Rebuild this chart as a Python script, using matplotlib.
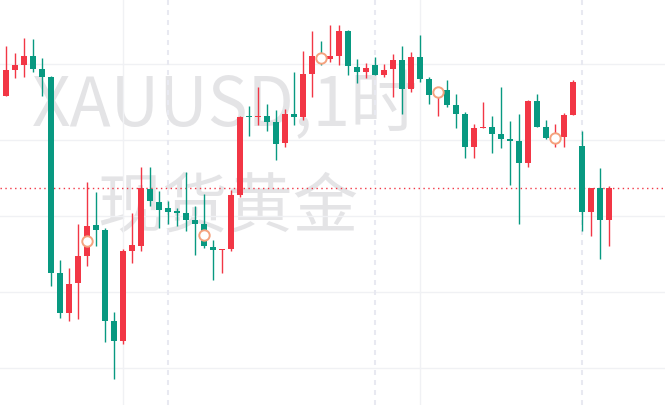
import matplotlib.pyplot as plt
import numpy as np

# OHLC-Daten (Stundenkerzen XAUUSD)
open_ = [2390.3, 2392.9, 2393.4, 2394.3, 2393.0, 2392.2, 2372.6, 2368.6, 2371.6, 2374.3,
         2377.4, 2376.9, 2367.8, 2365.8, 2374.8, 2375.3, 2381.0, 2379.7, 2379.1, 2378.8,
         2378.6, 2377.9, 2377.5, 2375.2, 2374.9, 2375.0, 2380.4, 2388.3, 2388.2, 2388.3,
         2387.7, 2385.6, 2388.5, 2388.2, 2392.5, 2394.3, 2394.0, 2394.3, 2396.8, 2393.2,
         2392.7, 2393.4, 2392.4, 2393.0, 2393.9, 2391.0, 2394.2, 2392.0, 2390.4, 2390.9,
         2389.4, 2388.5, 2385.2, 2387.1, 2387.2, 2386.5, 2386.0, 2385.8, 2383.6, 2389.8,
         2387.2, 2385.9, 2386.2, 2388.4, 2385.3, 2378.7, 2381.1, 2377.9]
high = [2395.3, 2394.6, 2396.1, 2396.0, 2394.1, 2392.3, 2373.9, 2373.1, 2377.5, 2381.7,
        2380.7, 2377.1, 2368.7, 2375.0, 2378.6, 2383.2, 2383.2, 2380.8, 2379.8, 2379.1,
        2382.7, 2379.3, 2380.5, 2375.9, 2375.0, 2380.9, 2388.3, 2389.3, 2391.2, 2389.5,
        2388.9, 2389.0, 2392.7, 2394.8, 2396.8, 2395.8, 2397.4, 2397.4, 2396.9, 2394.0,
        2393.6, 2394.2, 2393.5, 2394.5, 2395.3, 2394.7, 2396.4, 2392.2, 2391.1, 2391.9,
        2390.5, 2388.7, 2387.5, 2389.7, 2388.3, 2391.2, 2387.8, 2388.5, 2389.9, 2390.5,
        2387.9, 2387.5, 2388.6, 2391.9, 2386.8, 2381.1, 2383.1, 2381.3]
low = [2390.3, 2392.1, 2392.2, 2392.7, 2390.3, 2371.3, 2368.1, 2367.8, 2368.0, 2373.3,
       2375.3, 2365.7, 2362.0, 2365.5, 2373.6, 2374.8, 2379.3, 2377.1, 2377.5, 2377.3,
       2376.8, 2374.4, 2375.1, 2371.9, 2372.6, 2374.8, 2380.2, 2386.3, 2387.4, 2386.8,
       2383.9, 2385.2, 2387.4, 2387.9, 2390.2, 2393.4, 2393.7, 2393.4, 2392.4, 2391.6,
       2392.1, 2392.4, 2392.2, 2390.2, 2388.5, 2390.7, 2391.7, 2389.5, 2388.3, 2389.2,
       2387.1, 2384.1, 2384.1, 2387.1, 2384.6, 2385.1, 2381.4, 2377.5, 2383.2, 2387.2,
       2386.0, 2385.2, 2385.2, 2388.4, 2376.8, 2376.3, 2374.0, 2375.3]
close = [2392.9, 2393.4, 2394.3, 2393.0, 2392.2, 2372.6, 2368.6, 2371.5, 2374.3, 2377.3,
         2376.9, 2367.8, 2365.8, 2374.8, 2375.4, 2381.1, 2379.8, 2378.9, 2378.7, 2378.6,
         2377.9, 2377.5, 2375.3, 2374.9, 2375.0, 2380.4, 2388.2, 2388.2, 2388.3, 2387.7,
         2385.5, 2388.5, 2388.2, 2392.5, 2394.3, 2394.1, 2394.3, 2396.8, 2393.3, 2392.7,
         2393.1, 2392.4, 2392.9, 2393.9, 2391.0, 2394.2, 2392.0, 2390.4, 2390.8, 2389.4,
         2388.5, 2385.2, 2387.1, 2387.2, 2386.5, 2386.0, 2385.8, 2383.6, 2389.8, 2387.2,
         2386.1, 2386.3, 2388.4, 2391.7, 2378.7, 2381.1, 2377.9, 2381.1]

# Markeringen (cirkels) op enkele kaarsen
marker_idx = [9, 22, 35, 48, 61]
marker_price = [2375.8, 2376.4, 2394.1, 2390.7, 2386.1]

# Verticale lijnen: sessiegrenzen (gestreept) en tijdraster
session_idx = [18, 41, 64]
time_grid_idx = [13, 46]
price_grid = [2363.07, 2370.67, 2378.27, 2385.87, 2393.47]

up_color = '#f23645'
down_color = '#089981'

fig = plt.figure(figsize=(6.65, 4.06), dpi=100)
ax = fig.add_axes([0, 0, 1, 1])

n = len(close)
x = np.arange(n)
o = np.array(open_)
c = np.array(close)
colors = [up_color if c[i] > o[i] else down_color for i in range(n)]

# Watermerk (achter de kaarsen)
ax.text(32 / 665, 1 - 126 / 406, 'XAUUSD,1时', fontsize=48.5, color='#e4e4e6',
        family=['Noto Sans CJK SC', 'DejaVu Sans'], ha='left', va='baseline',
        transform=ax.transAxes, zorder=0)
ax.text(97 / 665, 1 - 208 / 406, '现货黄金', fontsize=47, color='#e4e4e6',
        family=['Noto Sans CJK SC', 'DejaVu Sans'], ha='left', va='center',
        transform=ax.transAxes, zorder=0)

# Raster
for p in price_grid:
    ax.axhline(p, color='#f0f1f4', linewidth=1, zorder=1)
for i in time_grid_idx:
    ax.axvline(i, color='#f0f1f4', linewidth=1, zorder=1)
for i in session_idx:
    ax.axvline(i, color='#e8e9f1', linewidth=1.5, linestyle=(0, (2.4, 2.4)), zorder=1)

# Laatste koers
ax.axhline(close[-1], color=up_color, linewidth=1, linestyle=(0, (1, 2.5)), zorder=2)

# Kaarsen
ax.vlines(x, low, high, colors=colors, linewidth=1.0, zorder=3)
body_bottom = np.minimum(o, c)
body_height = np.maximum(np.abs(c - o), 0.12)
ax.bar(x, body_height, bottom=body_bottom, width=0.66, color=colors, linewidth=0, zorder=4)

ax.plot(marker_idx, marker_price, 'o', markersize=7.5, markerfacecolor='white',
        markeredgecolor='#f5a27e', markeredgewidth=1.4, linestyle='none', zorder=5)

ax.set_xlim(-0.633, 73.26)
ax.set_ylim(2359.4, 2400)
ax.axis('off')

fig.savefig('out.png', dpi=100)
